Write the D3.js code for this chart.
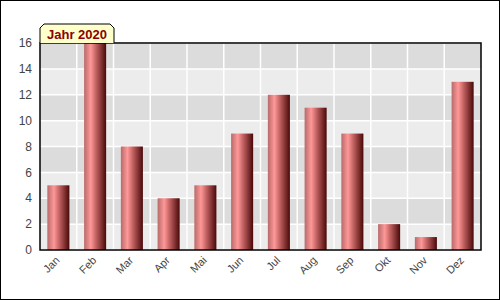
<!DOCTYPE html>
<html>
<head>
<meta charset="utf-8">
<script src="https://cdn.jsdelivr.net/npm/d3@7"></script>
<style>
  body { margin: 0; background: #fff; }
  svg { display: block; font-family: Arial, "Liberation Sans", sans-serif; }
</style>
</head>
<body>
<div id="viz"></div>
<script>
// chart values
var months = ["Jan", "Feb", "Mar", "Apr", "Mai", "Jun", "Jul", "Aug", "Sep", "Okt", "Nov", "Dez"],
    counts = [5, 16, 8, 4, 5, 9, 12, 11, 9, 2, 1, 13],
    yTicks = [0, 2, 4, 6, 8, 10, 12, 14, 16],
    title = "Jahr 2020";

var width = 500,
    height = 300,
    margin = { top: 43, right: 19, bottom: 50, left: 40 },
    plotW = width - margin.left - margin.right,
    plotH = height - margin.top - margin.bottom;

var svg = d3.select('#viz').append('svg')
    .attr('width', width)
    .attr('height', height);

// outer frame
svg.append('rect')
    .attr('x', 0.5).attr('y', 0.5)
    .attr('width', width - 1).attr('height', height - 1)
    .attr('fill', 'white')
    .attr('stroke', 'black');

var defs = svg.append('defs');
var grad = defs.append('linearGradient')
    .attr('id', 'barGrad')
    .attr('x1', '0%').attr('x2', '100%')
    .attr('y1', '0%').attr('y2', '0%');
grad.append('stop').attr('offset', '0%').attr('stop-color', '#b86a6a');
grad.append('stop').attr('offset', '30%').attr('stop-color', '#ff9898');
grad.append('stop').attr('offset', '55%').attr('stop-color', '#c06060');
grad.append('stop').attr('offset', '100%').attr('stop-color', '#4a0808');

var xScale = d3.scaleBand()
    .domain(months)
    .range([0, plotW])
    .paddingInner(0.4)
    .paddingOuter(0.2);

var yScale = d3.scaleLinear()
    .domain([0, 16])
    .range([plotH, 0]);

var g = svg.append('g')
    .attr('transform', 'translate(' + margin.left + ',' + margin.top + ')');

// alternating bands
g.selectAll('rect.band').data(yTicks.slice(0, -1))
    .enter().append('rect')
    .attr('class', 'band')
    .attr('x', 0)
    .attr('width', plotW)
    .attr('y', function(d) { return yScale(d + 2); })
    .attr('height', function(d) { return yScale(d) - yScale(d + 2); })
    .attr('fill', function(d, i) { return i % 2 == 0 ? '#ececec' : '#dcdcdc'; });

// white grid lines
g.selectAll('line.hgrid').data(yTicks)
    .enter().append('line')
    .attr('x1', 0).attr('x2', plotW)
    .attr('y1', function(d) { return yScale(d); })
    .attr('y2', function(d) { return yScale(d); })
    .attr('stroke', 'white')
    .attr('stroke-width', 1.5);

g.selectAll('line.vgrid').data(months.slice(1))
    .enter().append('line')
    .attr('x1', function(d) { return xScale(d) - xScale.step() * xScale.paddingInner() / 2; })
    .attr('x2', function(d) { return xScale(d) - xScale.step() * xScale.paddingInner() / 2; })
    .attr('y1', 0).attr('y2', plotH)
    .attr('stroke', 'white')
    .attr('stroke-width', 1.5);

// bars
g.selectAll('rect.bar').data(counts)
    .enter().append('rect')
    .attr('class', 'bar')
    .attr('x', function(d, i) { return xScale(months[i]); })
    .attr('width', xScale.bandwidth())
    .attr('y', function(d) { return yScale(d); })
    .attr('height', function(d) { return plotH - yScale(d); })
    .attr('fill', 'url(#barGrad)');

// plot border
g.append('rect')
    .attr('x', 0).attr('y', 0)
    .attr('width', plotW).attr('height', plotH)
    .attr('fill', 'none')
    .attr('stroke', 'black')
    .attr('stroke-width', 1.5);

// y axis labels
g.selectAll('text.ylab').data(yTicks)
    .enter().append('text')
    .attr('x', -8)
    .attr('y', function(d) { return yScale(d); })
    .attr('dy', '0.35em')
    .attr('text-anchor', 'end')
    .attr('fill', '#444')
    .style('font-size', '12px')
    .text(function(d) { return d; });

// x axis labels, rotated
g.selectAll('text.xlab').data(months)
    .enter().append('text')
    .attr('text-anchor', 'end')
    .attr('fill', '#444')
    .style('font-size', '11px')
    .attr('transform', function(d) {
        var cx = xScale(d) + xScale.bandwidth() / 2 + 2;
        return 'translate(' + cx + ',' + (plotH + 11) + ') rotate(-45)';
    })
    .text(function(d) { return d; });

// title tab
var tabX = margin.left, tabY = 24, tabW = 74, tabH = margin.top - tabY, ch = 4;
svg.append('path')
    .attr('d', 'M' + tabX + ',' + (tabY + tabH) +
        ' L' + tabX + ',' + (tabY + ch) +
        ' L' + (tabX + ch) + ',' + tabY +
        ' L' + (tabX + tabW - ch) + ',' + tabY +
        ' L' + (tabX + tabW) + ',' + (tabY + ch) +
        ' L' + (tabX + tabW) + ',' + (tabY + tabH))
    .attr('fill', '#ffffcc')
    .attr('stroke', 'black');

svg.append('text')
    .attr('x', tabX + tabW / 2)
    .attr('y', tabY + 15)
    .attr('text-anchor', 'middle')
    .attr('fill', '#8b0000')
    .style('font-size', '13px')
    .style('font-weight', 'bold')
    .text(title);
</script>
</body>
</html>
